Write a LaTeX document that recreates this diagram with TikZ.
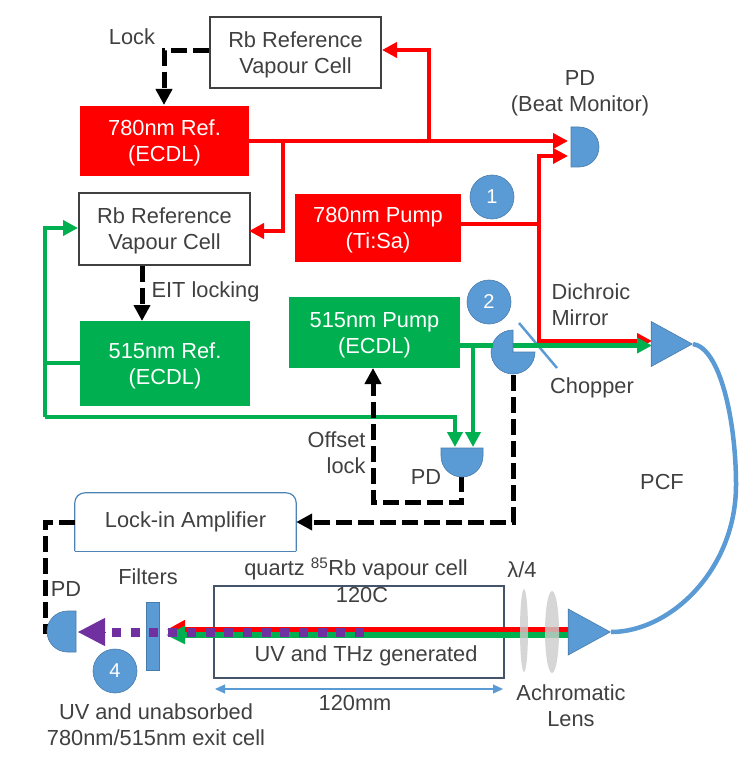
\documentclass[tikz,border=0pt]{standalone}
\usepackage{fontspec}
\setmainfont{Liberation Sans}
\usetikzlibrary{arrows.meta, shapes.geometric}
\definecolor{laserred}{HTML}{FF0000}
\definecolor{lasergreen}{HTML}{00B050}
\definecolor{uvpurple}{HTML}{7030A0}
\definecolor{opticblue}{HTML}{5B9BD5}
\definecolor{labelgrey}{HTML}{404040}
\definecolor{lensgrey}{HTML}{CCCCCC}
\definecolor{cellblue}{HTML}{44546A}
\tikzset{
  every node/.style={font=\fontsize{21.8}{26}\selectfont, text=labelgrey, align=center},
  source/.style={minimum width=#1, inner sep=0pt, text=white, text depth=-1pt},
  refcell/.style={draw=labelgrey, line width=1.3pt, fill=white, inner sep=0pt, text depth=-1pt},
  optic/.style={fill=opticblue, draw=opticblue!80!black, line width=.6pt},
  badge/.style={circle, optic, text=white, minimum size=44pt, inner sep=0pt, font=\fontsize{20}{22}\selectfont},
  redbeam/.style={draw=laserred, line width=4.5pt, -{Triangle[length=15pt,width=15pt]}},
  greenbeam/.style={draw=lasergreen, line width=4.5pt, -{Triangle[length=15pt,width=15pt]}},
  lockline/.style={draw=black, line width=5pt, dash pattern=on 16pt off 6pt, -{Triangle[length=16pt,width=16pt]}},
  lens/.style={ellipse, fill=lensgrey, fill opacity=.8, inner sep=0pt}
}
\begin{document}
\begin{tikzpicture}[x=1pt, y=-1pt, line join=miter]
  \useasboundingbox (0,0) rectangle (747,759);

  % Sources and reference cells
  \node[refcell, minimum width=171pt, minimum height=71pt] (cellA) at (295.5,52.5) {Rb Reference\\Vapour Cell};
  \node[source=169pt, fill=laserred, minimum height=70pt] (refred) at (164.5,141) {780nm Ref.\\(ECDL)};
  \node[refcell, minimum width=171pt, minimum height=72pt] (cellB) at (164.5,229) {Rb Reference\\Vapour Cell};
  \node[source=166pt, fill=laserred, minimum height=68pt] (pumpred) at (378,228) {780nm Pump\\(Ti:Sa)};
  \node[source=170pt, fill=lasergreen, minimum height=85pt] (refgreen) at (165,363.5) {515nm Ref.\\(ECDL)};
  \node[source=171pt, fill=lasergreen, minimum height=71pt] (pumpgreen) at (374.5,332.5) {515nm Pump\\(ECDL)};

  % Free ends of the connectors
  \coordinate (beatA) at (568,141);
  \coordinate (beatB) at (568,156);
  \coordinate (cellAin) at (382,50);
  \coordinate (cellBin) at (249,231);
  \coordinate (cellBgreen) at (78,228);
  \coordinate (offsetA) at (455,447);
  \coordinate (offsetB) at (473,447);
  \coordinate (lockA) at (164,105);
  \coordinate (lockB) at (142,321);
  \coordinate (chopout) at (513,375);
  \coordinate (pdout) at (461,476);
  \coordinate (pdin) at (45,634);
  \coordinate (offsetend) at (373,368);
  \coordinate (fibred) at (652,341);
  \coordinate (fibgreen) at (652,345.5);

  % Chopper and mirror
  \draw[opticblue, line width=2.5pt] (519,323) -- (557,368);
  \draw[optic] (513,352) -- (535,352) arc (0:270:22) -- cycle;

  % Red beams
  \draw[redbeam] (refred.east) -- (beatA);
  \draw[redbeam] (429,141) |- (cellAin);
  \draw[redbeam] (283,141) |- (cellBin);
  \draw[redbeam, -] (pumpred.east |- 0,224) -- (539,224);
  \draw[redbeam] (539,224) |- (beatB);
  \draw[redbeam] (539,224) |- (fibred);

  % Green beams
  \draw[greenbeam, -, line width=5pt] (pumpgreen.east |- fibgreen) -- (493,345.5);
  \draw[greenbeam, line width=5pt] (513,345.5) -- (fibgreen);
  \draw[greenbeam] (473,346) -- (offsetB);
  \draw[greenbeam, -] (refgreen.west |- 0,363) -- (45,363);
  \draw[greenbeam] (45,417) |- (cellBgreen);
  \draw[greenbeam] (45,417) -| (offsetA);

  % Locks
  \draw[lockline] (cellA.west |- 0,51) -| (lockA);
  \draw[lockline] (cellB.south -| lockB) -- (lockB);
  \draw[lockline] (pdout) |- (373,502) -- (offsetend);

  % Lock-in Amplifier
  \node[minimum width=221pt, minimum height=58pt, inner sep=0pt] (lockin) at (185.5,522) {Lock-in Amplifier};
  \draw[opticblue!85!black, line width=1.2pt, rounded corners=10pt] (lockin.south west) -- (lockin.north west) -- (lockin.north east) -- (lockin.south east);
  \draw[opticblue!85!black, line width=1.2pt] (lockin.south west) -- (lockin.south east);
  \draw[lockline] (chopout) |- (lockin.east);
  \draw[lockline, -] (lockin.west) -| (pdin);

  % Vapour cell
  \node[draw=cellblue, line width=1.2pt, minimum width=290pt, minimum height=92pt, inner sep=0pt] (vapour) at (359,632) {};
  \draw[laserred, line width=4.5pt, -{Triangle[length=18pt,width=18pt]}] (569,629.5) -- (167,629.5);
  \draw[lasergreen, line width=6pt, -{Triangle[length=19pt,width=17pt]}] (569,635) -- (166,635);
  \draw[uvpurple, line width=9pt, dash pattern=on 9pt off 9.7pt] (112,632) -- (372,632);

  % Optics
  \node[lens, minimum width=8pt, minimum height=83pt] (waveplate) at (524,630.5) {};
  \node[lens, minimum width=14pt, minimum height=82pt] (achromat) at (552,632) {};
  \node[rectangle, optic, minimum width=13pt, minimum height=68pt, inner sep=0pt] (filters) at (152.5,636) {};
  \draw[uvpurple, line width=1pt, -{Triangle[length=27pt,width=28pt]}] (105,632) -- (78,632);
  \draw[uvpurple, line width=9pt, dash pattern=on 9pt off 9.7pt] (112,632) -- (165,632);

  % Fibre
  \node[isosceles triangle, isosceles triangle stretches, optic, minimum width=45pt, minimum height=41pt, inner sep=0pt, anchor=apex] (fibrein) at (693,344) {};
  \node[isosceles triangle, isosceles triangle stretches, optic, minimum width=46pt, minimum height=42pt, inner sep=0pt, anchor=apex] (fibreout) at (611,632) {};
  \draw[opticblue, line width=4.5pt] (fibrein.apex) .. controls (720,348) and (736,420) .. (736,485) .. controls (736,570) and (670,632) .. (fibreout.apex);

  % Photodiodes
  \draw[optic] (571,127) -- (579,127) arc (-90:90:20) -- (571,167) -- cycle;
  \draw[optic] (441,448) -- (483,448) -- (483,456) arc (0:180:21) -- cycle;
  \draw[optic] (76,611) -- (67.5,611) arc (270:90:20.5) -- (76,652) -- cycle;

  % Numbered steps
  \node[badge] (one) at (492,197) {1};
  \node[badge] (two) at (489,302) {2};
  \node[badge] (four) at (115,671) {4};

  % Dimension
  \draw[opticblue, line width=1.2pt, {Triangle[length=10pt,width=9pt]}-{Triangle[length=10pt,width=9pt]}] (215,689) -- (503,689);

  % Labels
  \node (locklabel) at (132,37) {Lock};
  \node (beatlabel) at (580,93) {PD\\(Beat Monitor)};
  \node (eitlabel) at (205.5,292) {EIT locking};
  \node[align=right, anchor=east] (offsetlabel) at (369,452.5) {Offset\\lock};
  \node (pdlabelA) at (426,477) {PD};
  \node[align=left, anchor=west] (mirrorlabel) at (548,305) {Dichroic\\Mirror};
  \node (chopperlabel) at (592,388) {Chopper};
  \node (pcflabel) at (662,482) {PCF};
  \node (filterlabel) at (148,577) {Filters};
  \node (pdlabelB) at (66,589) {PD};
  \node (cellname) at (356,569) {quartz \textsuperscript{85}Rb vapour cell};
  \node (celltemp) at (362,595) {120C};
  \node (uvlabel) at (366,656) {UV and THz generated};
  \node (lengthlabel) at (355,703) {120mm};
  \node (waveplatelabel) at (522,570) {λ/4};
  \node (lenslabel) at (571,705.5) {Achromatic\\Lens};
  \node (exitlabel) at (156,725) {UV and unabsorbed\\780nm/515nm exit cell};
\end{tikzpicture}
\end{document}
